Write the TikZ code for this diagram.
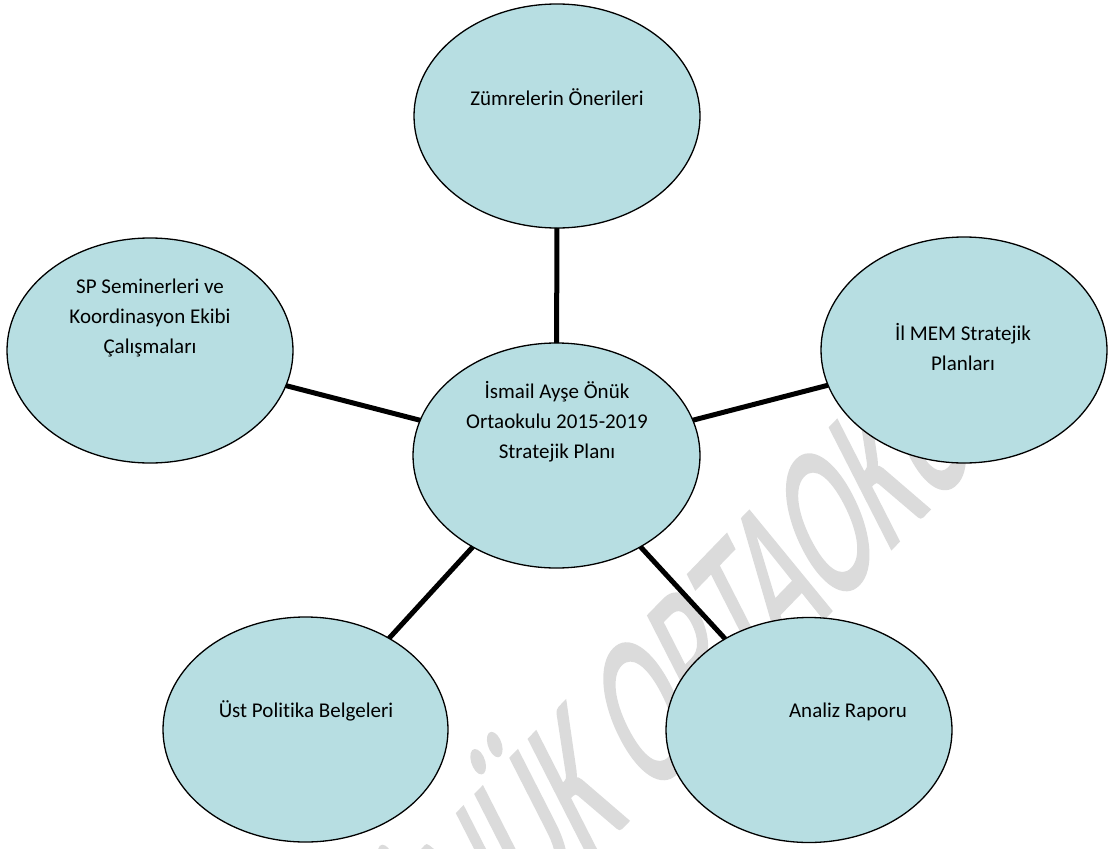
\documentclass[tikz,border=0pt]{standalone}
\usepackage{fontspec}
\setmainfont{Carlito}[Ligatures={NoCommon}]
\newfontfamily\wmfont{Carlito}[FakeBold=1.5]
\usetikzlibrary{shapes.geometric}
\definecolor{bubblefill}{RGB}{183,222,226}
\definecolor{wmgray}{RGB}{219,219,219}
\newcommand{\mylines}[1]{\begin{tabular}[t]{@{}c@{}}#1\end{tabular}}
\begin{document}
\begin{tikzpicture}[x=1pt,y=-1pt,
  bubble/.style={ellipse, draw=black, line width=1.3pt, fill=bubblefill,
    minimum width=286pt, minimum height=225pt, inner sep=0pt, outer sep=0pt},
  txt/.style={font=\fontsize{21}{30}\selectfont, inner sep=0pt, anchor=base, text=black},
  link/.style={line width=5pt, draw=black}]
\useasboundingbox (0,0) rectangle (1110,848);
\clip (0,0) rectangle (1110,848);
% watermark
\begin{scope}[shift={(421,1035)}, cm={0.695,0.719,-0.79,1.55,(0pt,0pt)}]
  \node[transform shape, anchor=base west, inner sep=0pt, text=wmgray,
        font=\wmfont\fontsize{121}{121}\selectfont] (wm) at (0,0) {ÖNÜK ORTAOKULU};
\end{scope}
% ellipses
\node[bubble, minimum height=224pt] (top) at (557,116) {};
\node[bubble, minimum width=287pt] (ctr) at (556.5,455.5) {};
\node[bubble] (sp) at (150,350.5) {};
\node[bubble, minimum height=226pt] (mem) at (964,350) {};
\node[bubble, minimum width=285pt] (ust) at (305.5,729.5) {};
\node[bubble] (anl) at (809,730) {};
% texts
\node[txt] (ttop) at (557,106) {\mylines{Zümrelerin Önerileri}};
\node[txt] (tctr) at (557,398) {\mylines{İsmail Ayşe Önük\\Ortaokulu 2015-2019\\Stratejik Planı}};
\node[txt] (tsp) at (150,293) {\mylines{SP Seminerleri ve\\Koordinasyon Ekibi\\Çalışmaları}};
\node[txt] (tmem) at (963,340) {\mylines{İl MEM Stratejik\\Planları}};
\node[txt] (tust) at (306,717) {\mylines{Üst Politika Belgeleri}};
\node[txt] (tanl) at (848,717) {\mylines{Analiz Raporu}};
% connectors
\draw[link] (top) -- (ctr);
\draw[link] (sp) -- (ctr);
\draw[link] (mem) -- (ctr);
\draw[link] (ust) -- (ctr);
\draw[link] (anl) -- (ctr);
\end{tikzpicture}
\end{document}
